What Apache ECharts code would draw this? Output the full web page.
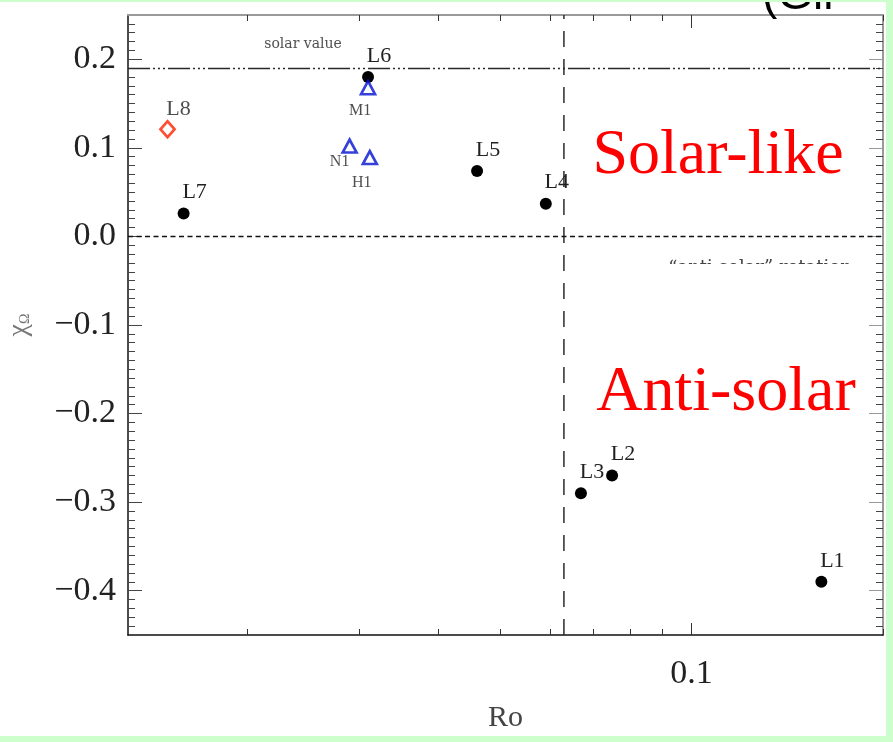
<!DOCTYPE html>
<html>
<head>
<meta charset="utf-8">
<script src="https://cdn.jsdelivr.net/npm/echarts@6/dist/echarts.min.js"></script>
<style>
  html, body { margin: 0; padding: 0; background: #fff; }
  #chart { width: 893px; height: 742px; }
</style>
</head>
<body>
<div id="chart"></div>
<script>
// Differential-rotation parameter chi_Omega against Rossby number Ro

// Low-resolution runs (filled circles)
const simNames = ['L1', 'L2', 'L3', 'L4', 'L5', 'L6', 'L7'];
const simRo    = [0.160, 0.075, 0.067, 0.059, 0.046, 0.031, 0.0159];
const simChi   = [-0.39, -0.27, -0.29, 0.037, 0.074, 0.180, 0.026];

// Comparison runs (open triangles)
const refNames = ['M1', 'N1', 'H1'];
const refRo    = [0.031, 0.029, 0.0312];
const refChi   = [0.168, 0.102, 0.089];

// Additional run (open diamond)
const extraNames = ['L8'];
const extraRo    = [0.0150];
const extraChi   = [0.121];

// Reference levels
const solarChi = 0.19;
const zeroChi = 0.0;
const transitionRo = 0.063;

// Axis ticks and labels
const yLabelValues = [-0.4, -0.3, -0.2, -0.1, 0.0, 0.1, 0.2];
const xLabelValues = [0.1];
const xMinorValues = [0.02, 0.03, 0.04, 0.05, 0.06, 0.07, 0.08, 0.09, 0.2];

const X_MIN = 0.013, X_MAX = 0.2;
const Y_MIN = -0.45, Y_MAX = 0.25;

// minor ticks on the chi axis every 0.01
const yMinorValues = [];
for (let i = -44; i <= 24; i++) {
  if (i % 10 !== 0) yMinorValues.push(i / 100);
}

const SERIF = '"Liberation Serif", "DejaVu Serif", serif';
const TXT = '#222';

function toPoints(names, xs, ys) {
  return names.map((n, i) => ({ name: n, value: [xs[i], ys[i]] }));
}

function fmtChi(v) {
  const a = Math.abs(v).toFixed(1);
  return v < -1e-9 ? '\u2212' + a : a;
}

function xAxisDef(position, tickValues, tickLen, opts) {
  return Object.assign({
    type: 'log',
    logBase: 10,
    min: X_MIN,
    max: X_MAX,
    position: position,
    axisLine: { show: false, onZero: false },
    axisTick: { show: true, inside: true, length: tickLen, customValues: tickValues,
                lineStyle: { color: '#333', width: 1 } },
    axisLabel: { show: false },
    splitLine: { show: false },
    minorTick: { show: false },
    minorSplitLine: { show: false }
  }, opts || {});
}

function yAxisDef(position, tickValues, tickLen, opts) {
  return Object.assign({
    type: 'value',
    min: Y_MIN,
    max: Y_MAX,
    position: position,
    axisLine: { show: false, onZero: false },
    axisTick: { show: true, inside: true, length: tickLen, customValues: tickValues,
                lineStyle: { color: '#444', width: 1 } },
    axisLabel: { show: false },
    splitLine: { show: false }
  }, opts || {});
}

const chart = echarts.init(document.getElementById('chart'), null, { renderer: 'canvas' });

const option = {
  backgroundColor: '#ffffff',
  animation: false,
  grid: { left: 128, right: 10, top: 15, bottom: 107, containLabel: false, outerBoundsMode: 'none' },
  xAxis: [
    xAxisDef('bottom', xLabelValues, 12, {
      axisLine: { show: true, onZero: false, lineStyle: { color: '#111', width: 1.5 } },
      axisLabel: {
        show: true, customValues: xLabelValues, margin: 22,
        fontFamily: SERIF, fontSize: 34, color: TXT,
        formatter: v => Number(v).toFixed(1)
      },
      name: 'Ro', nameLocation: 'middle', nameGap: 68,
      nameTextStyle: { fontFamily: SERIF, fontSize: 30, color: '#444' }
    }),
    xAxisDef('bottom', xMinorValues, 6),
    xAxisDef('top', xLabelValues, 13, {
      axisLine: { show: true, onZero: false, lineStyle: { color: '#9a9a9a', width: 2 } }
    }),
    xAxisDef('top', xMinorValues, 6)
  ],
  yAxis: [
    yAxisDef('left', yLabelValues, 14, {
      axisLine: { show: true, onZero: false, lineStyle: { color: '#111', width: 1.5 } },
      axisLabel: {
        show: true, customValues: yLabelValues, margin: 12,
        fontFamily: SERIF, fontSize: 34, color: TXT,
        formatter: fmtChi
      },
      name: '{c|\u03C7}{s|\u03A9}', nameLocation: 'middle', nameGap: 95, nameRotate: 90,
      nameTextStyle: {
        color: '#777',
        rich: {
          c: { fontFamily: SERIF, fontSize: 28, color: '#777' },
          s: { fontFamily: SERIF, fontSize: 14, color: '#777', padding: [12, 0, 0, 0] }
        }
      }
    }),
    yAxisDef('left', yMinorValues, 7),
    yAxisDef('right', yLabelValues, 14, {
      axisLine: { show: true, onZero: false, lineStyle: { color: '#9a9a9a', width: 2 } },
      axisTick: { show: true, inside: true, length: 14, customValues: yLabelValues,
                  lineStyle: { color: '#999', width: 1 } }
    }),
    yAxisDef('right', yMinorValues, 7)
  ],
  series: [
    {
      // boundary between the two regimes
      name: 'transition',
      type: 'line',
      xAxisIndex: 0, yAxisIndex: 0,
      symbol: 'none',
      silent: true,
      z: 1,
      lineStyle: { color: '#2a2a2a', width: 1.5, type: [16, 12] },
      data: [[transitionRo, Y_MIN], [transitionRo, Y_MAX]]
    },
    {
      name: 'runs',
      type: 'scatter',
      xAxisIndex: 0, yAxisIndex: 0,
      symbol: 'circle',
      symbolSize: 12,
      itemStyle: { color: '#000', opacity: 1 },
      z: 3,
      label: {
        show: true, formatter: '{b}', position: 'inside', offset: [11, -21],
        fontFamily: SERIF, fontSize: 22, color: TXT
      },
      data: toPoints(simNames, simRo, simChi),
      markLine: {
        silent: true,
        symbol: ['none', 'none'],
        label: { show: false },
        animation: false,
        data: [
          { yAxis: solarChi, lineStyle: { color: '#2a2a2a', width: 1.4, type: [22, 3, 2, 3, 2, 3, 2, 3] } },
          { yAxis: zeroChi, lineStyle: { color: '#111', width: 1.3, type: [5, 3.5] } }
        ]
      }
    },
    {
      name: 'comparison',
      type: 'scatter',
      xAxisIndex: 0, yAxisIndex: 0,
      symbol: 'triangle',
      symbolSize: [14, 13],
      z: 4,
      itemStyle: { color: '#ffffff', borderColor: '#0010d0', borderWidth: 2.6 },
      label: {
        show: true, formatter: '{b}', position: 'inside',
        fontFamily: SERIF, fontSize: 16, color: '#222'
      },
      data: toPoints(refNames, refRo, refChi).map(function (d) {
        const off = { M1: [-8, 23], N1: [-10, 16], H1: [-8, 25] }[d.name];
        d.label = { offset: off };
        return d;
      })
    },
    {
      name: 'extra',
      type: 'scatter',
      xAxisIndex: 0, yAxisIndex: 0,
      symbol: 'diamond',
      symbolSize: [14, 16],
      z: 4,
      itemStyle: { color: '#ffffff', borderColor: '#ff2000', borderWidth: 2.8 },
      label: {
        show: true, formatter: '{b}', position: 'inside', offset: [11, -20],
        fontFamily: SERIF, fontSize: 22, color: TXT
      },
      data: toPoints(extraNames, extraRo, extraChi)
    },
    {
      name: 'solar value',
      type: 'scatter',
      xAxisIndex: 0, yAxisIndex: 0,
      symbolSize: 0,
      silent: true,
      label: {
        show: true, formatter: '{b}', position: 'inside', offset: [0, -24],
        fontFamily: '"DejaVu Serif", serif', fontSize: 14, color: '#222'
      },
      data: [{ name: 'solar value', value: [0.0245, solarChi] }]
    }
  ],
  graphic: [
    {
      type: 'text', x: 718, y: 156, z: 10,
      style: { text: 'Solar-like', fill: '#ff0000', fontFamily: SERIF, fontSize: 64,
               align: 'center', verticalAlign: 'middle' }
    },
    {
      type: 'text', x: 726, y: 393, z: 10,
      style: { text: 'Anti-solar', fill: '#ff0000', fontFamily: SERIF, fontSize: 64,
               align: 'center', verticalAlign: 'middle' }
    },
    {
      type: 'text', x: 760, y: 268, z: 10,
      style: { text: '\u201Canti-solar\u201D rotation', fill: '#444', fontFamily: '"DejaVu Serif", serif',
               fontSize: 18, align: 'center', verticalAlign: 'middle' }
    },
    {
      type: 'rect', z: 11,
      shape: { x: 650, y: 264, width: 220, height: 16 },
      style: { fill: '#ffffff' }
    },
    {
      type: 'text', x: 762, y: -4, z: 20,
      style: { text: '(Gil', fill: '#000', fontFamily: '"Liberation Sans", Arial, sans-serif',
               fontSize: 46, align: 'left', verticalAlign: 'middle' }
    },
    { type: 'rect', z: 30, shape: { x: 0, y: 0, width: 893, height: 2 }, style: { fill: '#ccffcc' } },
    { type: 'rect', z: 30, shape: { x: 886, y: 0, width: 7, height: 742 }, style: { fill: '#ccffcc' } },
    { type: 'rect', z: 30, shape: { x: 0, y: 736, width: 893, height: 6 }, style: { fill: '#ccffcc' } }
  ]
};

chart.setOption(option);
</script>
</body>
</html>
